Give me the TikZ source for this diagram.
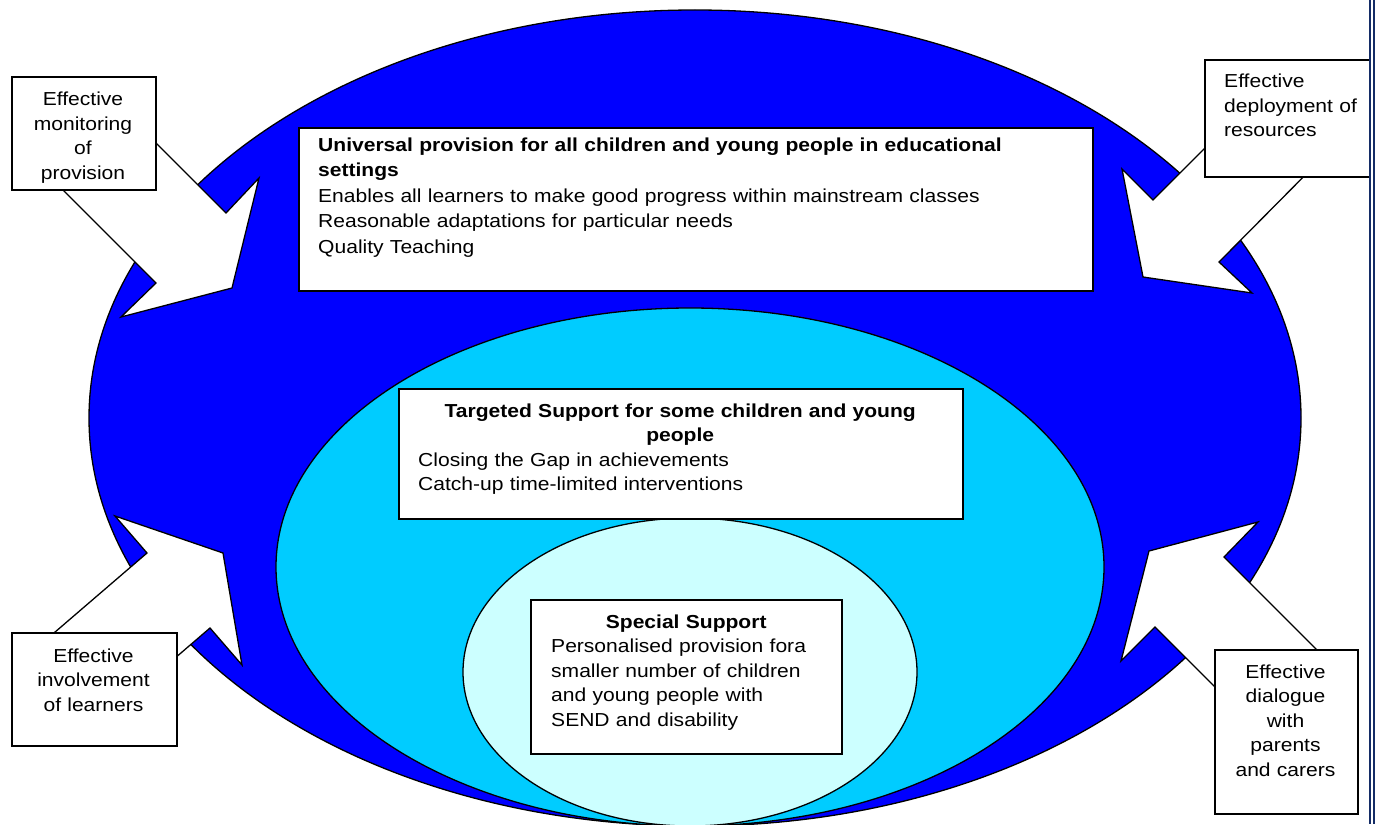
\documentclass[tikz,border=0pt]{standalone}
\usepackage{fontspec}
\setmainfont{Liberation Sans}[FakeStretch=1.12]
\definecolor{deepblue}{HTML}{0000FF}
\definecolor{skyblue}{HTML}{00CCFF}
\definecolor{paleblue}{HTML}{CCFFFF}
\definecolor{navyrule}{HTML}{142C66}
\begin{document}
\begin{tikzpicture}[x=1pt,y=-1pt,
  ring/.style={draw,line width=1.3pt},
  blockarrow/.style={draw,line width=1.3pt,fill=white,line join=miter},
  panel/.style={draw,line width=1.6pt,fill=white,inner sep=0pt,anchor=north west},
  words/.style={inner sep=0pt,font=\fontsize{18.8}{24.5}\selectfont}]
  \useasboundingbox (0,0) rectangle (1375,824);

  % Nested levels of provision
  \draw[ring,fill=deepblue] (695,418) ellipse [x radius=606pt, y radius=408pt];
  \draw[ring,fill=skyblue] (690,567) ellipse [x radius=414pt, y radius=259pt];
  \draw[ring,fill=paleblue] (690,672) ellipse [x radius=227pt, y radius=154pt];

  % Block arrows pointing in
  \draw[blockarrow] (100,87) -- (226,213) -- (259,178) -- (232,288)
    -- (121,317) -- (156,283) -- (30,157) -- cycle;
  \draw[blockarrow] (1253,100) -- (1153,200) -- (1122,169) -- (1143,277)
    -- (1252,293) -- (1219,262) -- (1330,150) -- cycle;
  \draw[blockarrow] (33,651) -- (147,553) -- (115,516) -- (223,553)
    -- (242,665) -- (210,628) -- (96,726) -- cycle;
  \draw[blockarrow] (1330,663) -- (1224,557) -- (1258,522) -- (1149,551)
    -- (1121,661) -- (1155,627) -- (1261,733) -- cycle;

  % Outer boxes
  \node[panel,minimum width=144pt,minimum height=113pt] (monitor) at (11,76) {};
  \node[words,text width=140pt,align=center,anchor=base] at (83,106)
    {Effective\\monitoring\\of\\provision};

  \node[panel,minimum width=165pt,minimum height=117pt] (deploy) at (1204,59) {};
  \node[words,text width=140pt,align=left,anchor=base west] at (1224,88)
    {Effective\\deployment of\\resources};

  \node[panel,minimum width=165pt,minimum height=113pt] (learners) at (11,632) {};
  \node[words,text width=160pt,align=center,anchor=base] at (93.5,662)
    {Effective\\involvement\\of learners};

  \node[panel,minimum width=143pt,minimum height=164pt] (dialogue) at (1214,649) {};
  \node[words,text width=140pt,align=center,anchor=base] at (1285.5,678)
    {Effective\\dialogue\\with\\parents\\and carers};

  % Inner boxes
  \node[panel,minimum width=794pt,minimum height=163pt] (universal) at (298,127) {};
  \node[words,text width=760pt,align=left,anchor=base west,
    font=\fontsize{18.8}{25.5}\selectfont] at (318,151)
    {\textbf{Universal provision for all children and young people in educational}\\
     \textbf{settings}\\
     Enables all learners to make good progress within mainstream classes\\
     Reasonable adaptations for particular needs\\
     Quality Teaching};

  \node[panel,minimum width=564pt,minimum height=130pt] (targeted) at (398,388) {};
  \node[words,text width=524pt,align=left,anchor=base west] at (418,417)
    {{\centering\bfseries Targeted Support for some children and young\\ people\par}
     Closing the Gap in achievements\\
     Catch-up time-limited interventions};

  \node[panel,minimum width=311pt,minimum height=154pt] (special) at (530,599) {};
  \node[words,text width=270pt,align=left,anchor=base west] at (551,628)
    {{\centering\bfseries Special Support\par}
     Personalised provision fora\\
     smaller number of children\\
     and young people with\\
     SEND and disability};

  % Page rule at the right
  \draw[navyrule,line width=2pt] (1369.5,0) -- (1369.5,824);
  \draw[navyrule,line width=2pt] (1373.5,0) -- (1373.5,824);
\end{tikzpicture}
\end{document}
